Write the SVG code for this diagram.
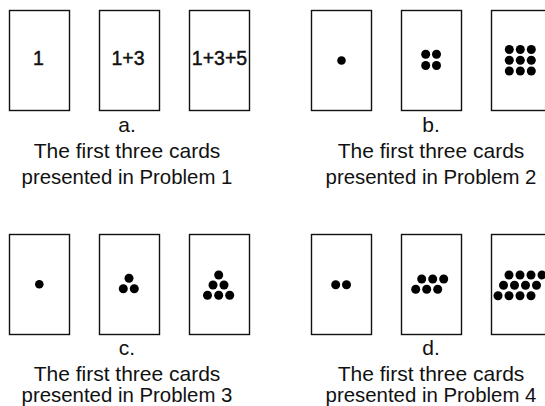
<svg xmlns="http://www.w3.org/2000/svg" width="545" height="406" viewBox="0 0 545 406">
<style>
.card{fill:#fff;stroke:#111;stroke-width:1.4}
.num{font-family:"Liberation Sans",Arial,sans-serif;font-size:19.5px;fill:#111;stroke:#111;stroke-width:0.45;text-anchor:middle}
.lab{font-family:"Liberation Sans",Arial,sans-serif;font-size:21px;fill:#111;text-anchor:middle}
.l3{font-size:20.4px}
.dot{fill:#000}
</style>
<rect width="545" height="406" fill="#fff"/>
<g id="panel-a">
<rect class="card" x="9.5" y="10.5" width="60" height="100"/>
<rect class="card" x="99.5" y="10.5" width="60" height="100"/>
<rect class="card" x="189.5" y="10.5" width="60" height="100"/>
<text class="num" x="38.5" y="65">1</text>
<text class="num" x="128" y="65">1+3</text>
<text class="num" x="219.5" y="65">1+3+5</text>
<text class="lab" x="127" y="132">a.</text>
<text class="lab" x="127" y="158">The first three cards</text>
<text class="lab l3" x="127" y="184">presented in Problem 1</text>
</g>
<g id="panel-b">
<rect class="card" x="311.5" y="10.5" width="60" height="100"/>
<rect class="card" x="401.5" y="10.5" width="60" height="100"/>
<rect class="card" x="491.5" y="10.5" width="60" height="100"/>
<circle class="dot" cx="341.5" cy="60.5" r="4.3"/>
<circle class="dot" cx="425.7" cy="54.3" r="4.5"/>
<circle class="dot" cx="436.5" cy="54.3" r="4.5"/>
<circle class="dot" cx="425.7" cy="65.5" r="4.5"/>
<circle class="dot" cx="436.5" cy="65.5" r="4.5"/>
<circle class="dot" cx="509.3" cy="49.5" r="4.5"/>
<circle class="dot" cx="520.3" cy="49.5" r="4.5"/>
<circle class="dot" cx="531.3" cy="49.5" r="4.5"/>
<circle class="dot" cx="509.3" cy="60.3" r="4.5"/>
<circle class="dot" cx="520.3" cy="60.3" r="4.5"/>
<circle class="dot" cx="531.3" cy="60.3" r="4.5"/>
<circle class="dot" cx="509.3" cy="71" r="4.5"/>
<circle class="dot" cx="520.3" cy="71" r="4.5"/>
<circle class="dot" cx="531.3" cy="71" r="4.5"/>
<text class="lab" x="431" y="132">b.</text>
<text class="lab" x="431" y="158">The first three cards</text>
<text class="lab l3" x="431" y="184">presented in Problem 2</text>
</g>
<g id="panel-c">
<rect class="card" x="9.5" y="234.5" width="60" height="100"/>
<rect class="card" x="99.5" y="234.5" width="60" height="100"/>
<rect class="card" x="189.5" y="234.5" width="60" height="100"/>
<circle class="dot" cx="39.3" cy="284.3" r="4.3"/>
<circle class="dot" cx="129" cy="278.3" r="4.5"/>
<circle class="dot" cx="123.3" cy="288.7" r="4.5"/>
<circle class="dot" cx="134.3" cy="288.7" r="4.5"/>
<circle class="dot" cx="218.7" cy="275" r="4.5"/>
<circle class="dot" cx="213" cy="285" r="4.5"/>
<circle class="dot" cx="224" cy="285" r="4.5"/>
<circle class="dot" cx="207.5" cy="295.3" r="4.5"/>
<circle class="dot" cx="218.7" cy="295.3" r="4.5"/>
<circle class="dot" cx="229.7" cy="295.3" r="4.5"/>
<text class="lab" x="127" y="355">c.</text>
<text class="lab" x="127" y="381">The first three cards</text>
<text class="lab l3" x="127" y="402">presented in Problem 3</text>
</g>
<g id="panel-d">
<rect class="card" x="311.5" y="234.5" width="60" height="100"/>
<rect class="card" x="401.5" y="234.5" width="60" height="100"/>
<rect class="card" x="491.5" y="234.5" width="60" height="100"/>
<circle class="dot" cx="335.7" cy="284.7" r="4.5"/>
<circle class="dot" cx="346.5" cy="284.7" r="4.5"/>
<circle class="dot" cx="421.7" cy="279" r="4.5"/>
<circle class="dot" cx="432.7" cy="279" r="4.5"/>
<circle class="dot" cx="443.7" cy="279" r="4.5"/>
<circle class="dot" cx="415.7" cy="289.3" r="4.5"/>
<circle class="dot" cx="426.7" cy="289.3" r="4.5"/>
<circle class="dot" cx="437.7" cy="289.3" r="4.5"/>
<circle class="dot" cx="509" cy="275" r="4.5"/>
<circle class="dot" cx="520" cy="275" r="4.5"/>
<circle class="dot" cx="531" cy="275" r="4.5"/>
<circle class="dot" cx="542" cy="275" r="4.5"/>
<circle class="dot" cx="503.5" cy="285.3" r="4.5"/>
<circle class="dot" cx="514.5" cy="285.3" r="4.5"/>
<circle class="dot" cx="525.5" cy="285.3" r="4.5"/>
<circle class="dot" cx="536.5" cy="285.3" r="4.5"/>
<circle class="dot" cx="498" cy="295.7" r="4.5"/>
<circle class="dot" cx="509" cy="295.7" r="4.5"/>
<circle class="dot" cx="520" cy="295.7" r="4.5"/>
<circle class="dot" cx="531" cy="295.7" r="4.5"/>
<text class="lab" x="431" y="355">d.</text>
<text class="lab" x="431" y="381">The first three cards</text>
<text class="lab l3" x="431" y="402">presented in Problem 4</text>
</g>
<g id="connectors"/>
</svg>
